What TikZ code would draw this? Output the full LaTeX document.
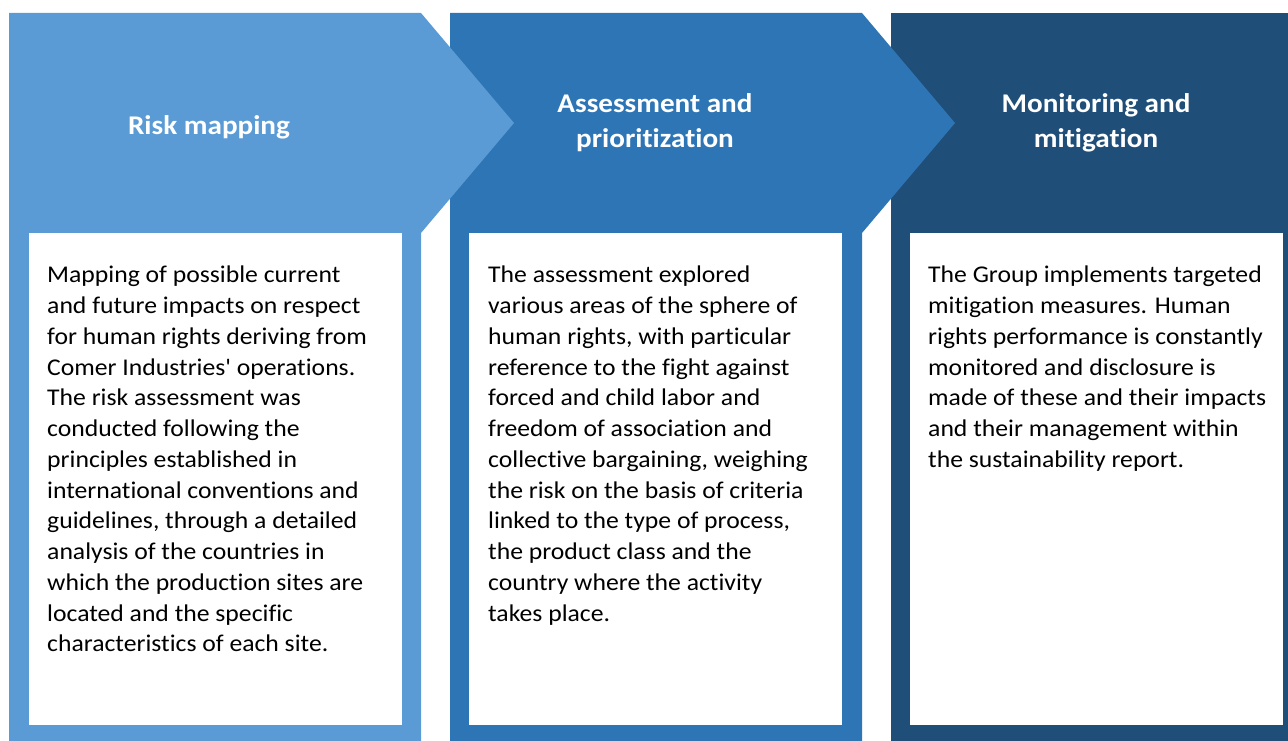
\documentclass[tikz,border=0pt]{standalone}
\usepackage{fontspec}
\setmainfont{Carlito}[Ligatures={TeXOff,CommonOff}]
\newfontfamily\bodyfont{Carlito}[Ligatures={TeXOff,CommonOff},FakeStretch=1.07]
\newfontfamily\titlefont{Carlito}[Ligatures={TeXOff,CommonOff},FakeStretch=1.08]
\definecolor{cLight}{HTML}{5B9BD5}
\definecolor{cMid}{HTML}{2E75B6}
\definecolor{cDark}{HTML}{1F4E79}
\tikzset{
  panelbox/.style={fill=white, draw=none},
  titletext/.style={text=white, font={\titlefont\fontsize{27}{35}\selectfont\bfseries}, align=center, inner sep=0pt},
  bodytext/.style={text=black, font={\bodyfont\fontsize{24}{30.75}\selectfont}, align=left, anchor=north west, inner sep=0pt}
}
\begin{document}
\begin{tikzpicture}[x=1pt,y=-1pt]
\useasboundingbox (0,0) rectangle (1288,741);
% shape 3
\fill[cDark] (891,13) rectangle (1288,741);
% shape 2
\fill[cMid] (450,13) -- (862,13) -- (955,123) -- (862,233) -- (862,741) -- (450,741) -- cycle;
% shape 1
\fill[cLight] (9,13) -- (421,13) -- (514,123) -- (421,233) -- (421,741) -- (9,741) -- cycle;
% white boxes
\fill[panelbox] (29,233) rectangle (402,725);
\fill[panelbox] (469,233) rectangle (842,725);
\fill[panelbox] (910,233) rectangle (1283,725);
% titles
\node[titletext] (t1) at (209,127) {Risk mapping};
\node[titletext] (t2) at (655,123) {Assessment and\\prioritization};
\node[titletext] (t3) at (1096,123) {Monitoring and\\mitigation};
% bodies
\node[bodytext] (b1) at (47,266) {Mapping of possible current\\
and future impacts on respect\\
for human rights deriving from\\
Comer Industries' operations.\\
The risk assessment was\\
conducted following the\\
principles established in\\
international conventions and\\
guidelines, through a detailed\\
analysis of the countries in\\
which the production sites are\\
located and the specific\\
characteristics of each site.};
\node[bodytext] (b2) at (488,266) {The assessment explored\\
various areas of the sphere of\\
human rights, with particular\\
reference to the fight against\\
forced and child labor and\\
freedom of association and\\
collective bargaining, weighing\\
the risk on the basis of criteria\\
linked to the type of process,\\
the product class and the\\
country where the activity\\
takes place.};
\node[bodytext] (b3) at (928,266) {The Group implements targeted\\
mitigation measures. Human\\
rights performance is constantly\\
monitored and disclosure is\\
made of these and their impacts\\
and their management within\\
the sustainability report.};
\end{tikzpicture}
\end{document}
